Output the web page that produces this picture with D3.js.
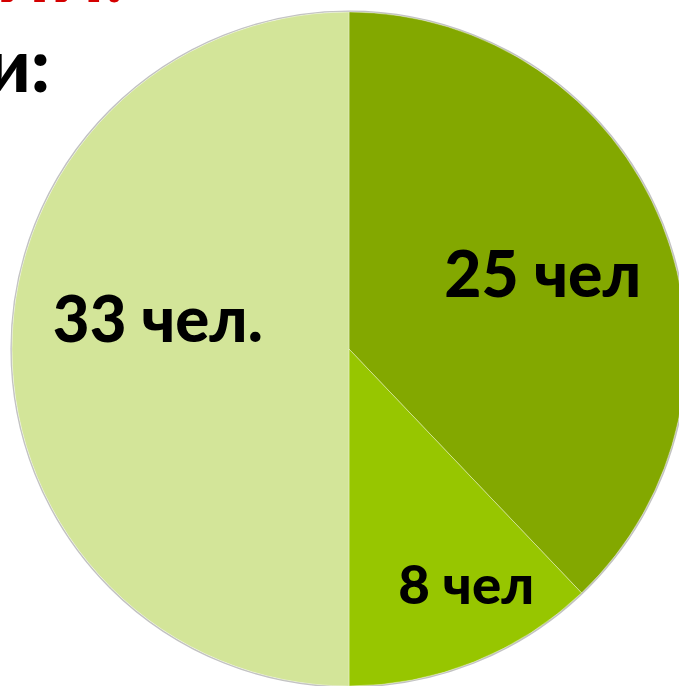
<!DOCTYPE html>
<html>
<head>
<meta charset="utf-8">
<script src="https://cdn.jsdelivr.net/npm/d3@7"></script>
<style>
  html, body { margin: 0; padding: 0; background: #fff; }
  svg { display: block; }
</style>
</head>
<body>
<svg id="chart" width="679" height="686"></svg>
<script>
// Data
const categories = ["A", "B", "C"];
const values = [25, 8, 33];
const labels = ["25 чел", "8 чел", "33 чел."];
const colors = ["#83a800", "#97c600", "#d3e599"];

// Layout config
const W = 679, H = 686;
const cx = 349, cy = 349, R = 337;
const labelSizes = [64, 53, 65];
const labelWidths = [197, 136, 210];
const labelNudge = [[6, 0], [42, 48], [11, -30]];

const svg = d3.select("#chart");

// Top-left cut title text
svg.append("text")
  .attr("x", -4).attr("y", 1.5)
  .attr("font-family", "Lato, 'DejaVu Sans', sans-serif")
  .attr("font-weight", 900)
  .attr("font-size", 70)
  .attr("fill", "#d40000")
  .text("ИЙ!");

svg.append("text")
  .attr("x", 50).attr("y", 92)
  .attr("text-anchor", "end")
  .attr("font-family", "Lato, 'DejaVu Sans', sans-serif")
  .attr("font-weight", 900)
  .attr("font-size", 74)
  .attr("fill", "#000")
  .text("и:");

const pie = d3.pie().sort(null).value(d => d)(values);
const arc = d3.arc().innerRadius(0).outerRadius(R);
const g = svg.append("g").attr("transform", `translate(${cx},${cy})`);

// subtle shadow ring
g.append("circle").attr("r", R + 0.8).attr("fill", "none")
  .attr("stroke", "#9a9a9a").attr("stroke-width", 1.6).attr("opacity", 0.6);

g.selectAll("path.slice").data(pie).enter().append("path")
  .attr("class", "slice")
  .attr("d", arc)
  .attr("fill", (d, i) => colors[i])
  .attr("stroke", "rgba(255,255,255,0.35)")
  .attr("stroke-width", 1);

const labelArc = d3.arc().innerRadius(R * 0.6).outerRadius(R * 0.6);
g.selectAll("text.lbl").data(pie).enter().append("text")
  .attr("class", "lbl")
  .each(function(d, i) {
    const c = labelArc.centroid(d);
    const cap = labelSizes[i] * 0.72;
    d3.select(this)
      .attr("x", c[0] + labelNudge[i][0])
      .attr("y", c[1] + labelNudge[i][1] + cap / 2)
      .attr("text-anchor", "middle")
      .attr("font-family", "Lato, 'DejaVu Sans', sans-serif")
      .attr("font-weight", 900)
      .attr("font-size", labelSizes[i])
      .attr("textLength", labelWidths[i])
      .attr("lengthAdjust", "spacingAndGlyphs")
      .attr("fill", "#000")
      .text(labels[i]);
  });
</script>
</body>
</html>
